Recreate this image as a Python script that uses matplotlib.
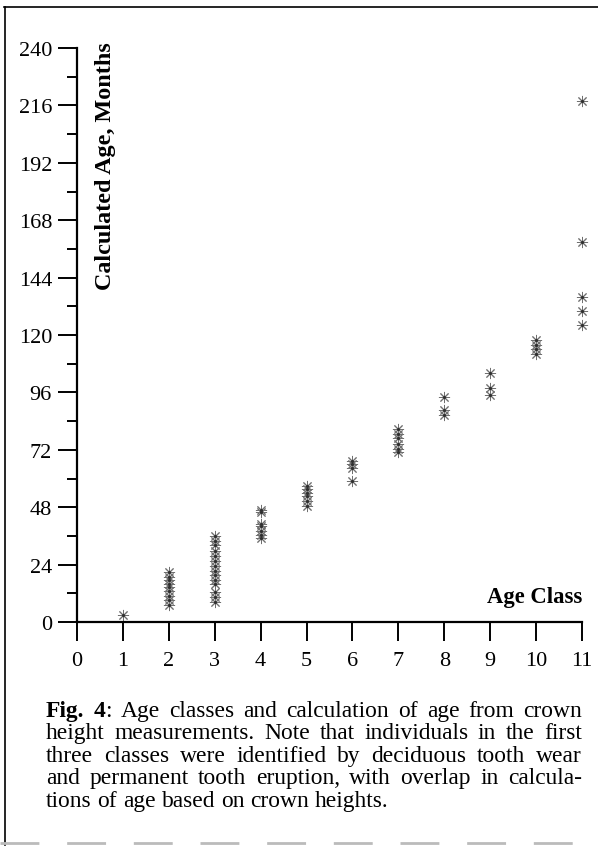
import matplotlib
matplotlib.use("Agg")
import matplotlib.pyplot as plt
from matplotlib.lines import Line2D

plt.rcParams['font.family'] = ['Liberation Serif', 'DejaVu Serif']

# ---- data ----
age_classes = [1, 2, 3, 4, 5, 6, 7, 8, 9, 10, 11]
ages = {
    1: [3],
    2: [7, 9, 11, 13, 14.5, 16, 17.5, 19, 21],
    3: [8.5, 10.5, 12.5, 16, 17.5, 19.5, 21.5, 23.5, 25.5, 27.5, 29.5, 32, 34, 36],
    4: [35, 36.5, 38, 40, 41, 46, 47],
    5: [48.5, 50.5, 52.5, 54, 55.5, 57],
    6: [59, 64.5, 66, 67.5],
    7: [71, 72.5, 74.5, 77, 78.5, 80.5],
    8: [86.5, 88.5, 94],
    9: [95, 98, 104],
    10: [112, 114, 116, 118],
    11: [124, 130, 136, 159, 218],
}
x_ticks = list(range(0, 12))
y_major = list(range(0, 241, 24))
y_minor = list(range(12, 241, 24))

caption_lines = [
    [[("Fig.", "bold")], [("4", "bold"), (":", "normal")], "Age", "classes", "and",
     "calculation", "of", "age", "from", "crown"],
    "height measurements. Note that individuals in the first".split(),
    "three classes were identified by deciduous tooth wear".split(),
    "and permanent tooth eruption, with overlap in calcula-".split(),
    "tions of age based on crown heights.".split(),
]

W, H = 598, 853
fig = plt.figure(figsize=(W / 100, H / 100), dpi=100)

def fx(px):
    return px / W

def fy(py):
    return 1 - py / H

x0p, x1p = 77, 582
y0p, y1p = 623, 49
ax = fig.add_axes([fx(x0p), fy(y0p), fx(x1p) - fx(x0p), fy(y1p) - fy(y0p)])
ax.set_xlim(0, 11)
ax.set_ylim(0, 240)
for s in ['top', 'right']:
    ax.spines[s].set_visible(False)
for s in ['left', 'bottom']:
    ax.spines[s].set_linewidth(1.6)
ax.set_xticks(x_ticks)
ax.set_yticks(y_major)
ax.set_yticks(y_minor, minor=True)
ax.tick_params(axis='both', which='major', direction='out', length=14, width=1.4,
               labelsize=16, pad=4)
ax.tick_params(axis='y', which='minor', direction='out', length=7, width=1.4)
ax.tick_params(axis='x', which='major', pad=7)

for c in age_classes:
    vals = ages[c]
    ax.plot([c] * len(vals), vals, linestyle='none', marker=(8, 2, 0),
            markersize=8, markeredgewidth=0.7, color='#707070', clip_on=False)
    ax.plot([c] * len(vals), vals, linestyle='none', marker='o',
            markersize=2.2, markeredgewidth=0, color='#303030', clip_on=False)

ax.text(0.056, 1.012, "Calculated Age, Months", transform=ax.transAxes,
        rotation=90, ha='center', va='top', fontsize=17.4, fontweight='bold')
ax.text(11, 10.5, "Age Class", ha='right', va='center', fontsize=16.3,
        fontweight='bold')

# ---- caption, justified ----
renderer = fig.canvas.get_renderer()
cap_size = 16.9
x_left, x_right = 46, 582
baselines = [717, 739.5, 762, 784.5, 807]

def token_runs(tok):
    if isinstance(tok, str):
        return [(tok, "normal")]
    return tok

def run_width(txt, weight):
    t = fig.text(0, 0, txt, fontsize=cap_size, fontweight=weight)
    w = t.get_window_extent(renderer=renderer).width
    t.remove()
    return w

space_w = run_width("a b", "normal") - run_width("ab", "normal")
for i, line in enumerate(caption_lines):
    toks = [token_runs(t) for t in line]
    widths = [[run_width(r, w) for r, w in tk] for tk in toks]
    total = sum(sum(ws) for ws in widths)
    last = (i == len(caption_lines) - 1)
    gap = space_w if last else (x_right - x_left - total) / (len(toks) - 1)
    xp = x_left
    for tk, ws in zip(toks, widths):
        for (r, wgt), w in zip(tk, ws):
            fig.text(fx(xp), fy(baselines[i]), r, fontsize=cap_size, fontweight=wgt,
                     ha='left', va='baseline')
            xp += w
        xp += gap

# ---- page frame ----
fig.add_artist(Line2D([fx(4), fx(598)], [fy(8), fy(8)], color='black', lw=1.2))
fig.add_artist(Line2D([fx(5), fx(5)], [fy(8), fy(846)], color='black', lw=1.2))
fig.add_artist(Line2D([fx(0), fx(598)], [fy(844), fy(844)], color='#bbbbbb', lw=2,
                      linestyle=(0, (14, 10))))

fig.savefig("out.png", dpi=100)
